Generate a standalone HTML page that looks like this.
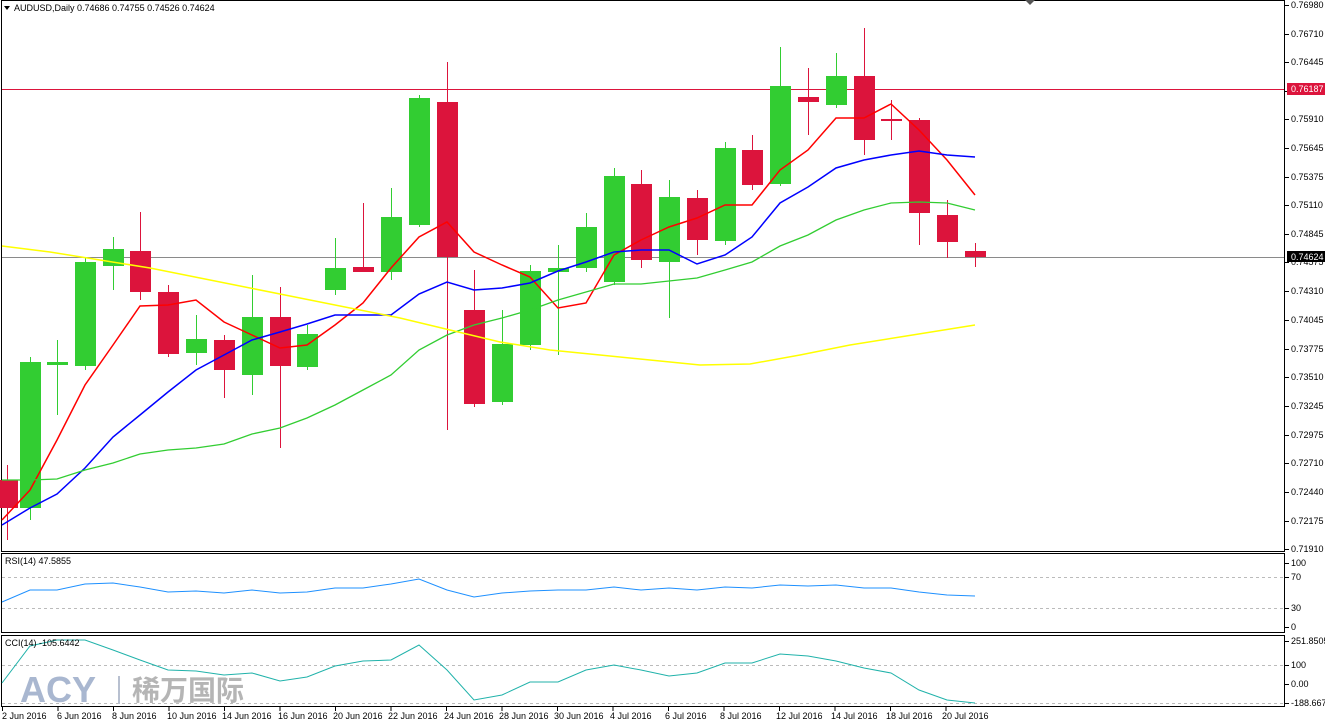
<!DOCTYPE html>
<html><head><meta charset="utf-8"><style>
body{margin:0;background:#fff;width:1325px;height:724px;overflow:hidden}
svg{display:block}
text{font-family:"Liberation Sans","Noto Sans CJK SC",sans-serif;font-size:9px;fill:#000}
</style></head><body>
<svg id="s" width="1325" height="724" xmlns="http://www.w3.org/2000/svg">
<rect x="0" y="0" width="1325" height="724" fill="#fff"/>
<rect x="1.5" y="0.5" width="1283" height="551" fill="none" stroke="#000"/>
<rect x="1.5" y="553.5" width="1283" height="79" fill="none" stroke="#000"/>
<rect x="1.5" y="635.5" width="1283" height="71" fill="none" stroke="#000"/>
<line x1="2" y1="89.5" x2="1284" y2="89.5" stroke="#dc143c" stroke-width="1"/>
<line x1="2" y1="257.5" x2="1284" y2="257.5" stroke="#8a8a8a" stroke-width="1"/>
<line x1="2" y1="577.5" x2="1284" y2="577.5" stroke="#bbb" stroke-dasharray="3,3"/>
<line x1="2" y1="608.5" x2="1284" y2="608.5" stroke="#bbb" stroke-dasharray="3,3"/>
<line x1="2" y1="665.5" x2="1284" y2="665.5" stroke="#bbb" stroke-dasharray="3,3"/>
<line x1="2" y1="703.5" x2="1284" y2="703.5" stroke="#bbb" stroke-dasharray="3,3"/>
<g id="c"></g>
<text x="20" y="702" style="font-size:36px;font-weight:bold;fill:#9aaac8;fill-opacity:0.85">ACY</text>
<rect x="118" y="676" width="2" height="28" fill="#b8c0d0"/>
<text x="132" y="700" style="font-size:28px;font-weight:bold;fill:#a8a8a8;fill-opacity:0.85">稀万国际</text>
<path d="M4,6 L10,6 L7,10 Z" fill="#000"/>
<text x="14" y="11">AUDUSD,Daily  0.74686 0.74755 0.74526 0.74624</text>
<path d="M1025,0 L1035,0 L1030,5 Z" fill="#555"/>
<text x="5" y="564">RSI(14) 47.5855</text>
<text x="5" y="646">CCI(14) -105.6442</text>
<g id="ax"></g>
<g>
<text x="1291" y="8">0.76980</text><text x="1291" y="37">0.76710</text><text x="1291" y="65">0.76445</text>
<text x="1291" y="122">0.75910</text><text x="1291" y="151">0.75645</text><text x="1291" y="180">0.75375</text>
<text x="1291" y="208">0.75110</text><text x="1291" y="237">0.74845</text><text x="1291" y="265">0.74575</text>
<text x="1291" y="294">0.74310</text><text x="1291" y="323">0.74045</text><text x="1291" y="352">0.73775</text>
<text x="1291" y="380">0.73510</text><text x="1291" y="409">0.73245</text><text x="1291" y="438">0.72975</text>
<text x="1291" y="466">0.72710</text><text x="1291" y="495">0.72440</text><text x="1291" y="524">0.72175</text>
<text x="1291" y="552">0.71910</text>
<rect x="1287" y="83" width="38" height="12" fill="#dc143c"/>
<text x="1291" y="92" style="fill:#fff">0.76187</text>
<rect x="1287" y="251" width="38" height="11" fill="#000"/>
<text x="1291" y="260" style="fill:#fff">0.74624</text>
<text x="1291" y="566">100</text><text x="1291" y="580">70</text><text x="1291" y="611">30</text><text x="1291" y="630">0</text>
<text x="1291" y="644">251.8505</text><text x="1291" y="668">100</text><text x="1291" y="687">0.00</text><text x="1291" y="706">-188.6677</text>
</g>
<g>
<text x="2" y="719">2 Jun 2016</text><text x="57" y="719">6 Jun 2016</text><text x="112" y="719">8 Jun 2016</text>
<text x="167" y="719">10 Jun 2016</text><text x="222" y="719">14 Jun 2016</text><text x="278" y="719">16 Jun 2016</text>
<text x="333" y="719">20 Jun 2016</text><text x="388" y="719">22 Jun 2016</text><text x="444" y="719">24 Jun 2016</text>
<text x="499" y="719">28 Jun 2016</text><text x="554" y="719">30 Jun 2016</text><text x="610" y="719">4 Jul 2016</text>
<text x="665" y="719">6 Jul 2016</text><text x="720" y="719">8 Jul 2016</text><text x="776" y="719">12 Jul 2016</text>
<text x="831" y="719">14 Jul 2016</text><text x="886" y="719">18 Jul 2016</text><text x="942" y="719">20 Jul 2016</text>
</g>
</svg>
<script>
var NS="http://www.w3.org/2000/svg",g=document.getElementById("c"),ax=document.getElementById("ax");
function el(t,a,p){var e=document.createElementNS(NS,t);for(var k in a)e.setAttribute(k,a[k]);(p||g).appendChild(e);return e;}
[5,34,62,91,119,148,177,205,234,262,291,320,349,377,406,435,463,492,521,549,563,577,608,627,641,665,684,703].forEach(function(y){el("line",{x1:1285,y1:y+.5,x2:1289,y2:y+.5,stroke:"#000"},ax);});
for(var i=0;i<18;i++){var x=2+i*55.5;el("line",{x1:x+.5,y1:707,x2:x+.5,y2:711,stroke:"#000"},ax);}
var C=[[7,465,540,480,508,0],[30,357,520,362,508,1],[57,340,415,362,365,1],[85,258,370,262,366,1],[113,237,290,249,266,1],[140,212,300,251,292,0],[168,285,357,292,354,0],[196,315,365,339,353,1],[224,335,398,340,370,0],[252,275,395,317,375,1],[280,287,448,317,366,0],[307,325,370,334,367,1],[335,238,295,268,290,1],[363,203,272,267,272,0],[391,188,280,217,272,1],[419,95,227,98,225,1],[447,62,430,102,257,0],[474,270,407,310,404,0],[502,310,405,344,402,1],[530,265,350,271,345,1],[558,245,355,268,272,1],[586,213,272,227,268,1],[614,168,285,176,282,1],[641,170,268,184,260,0],[669,180,318,197,262,1],[697,190,255,198,240,0],[725,142,245,148,241,1],[752,135,190,150,185,0],[780,47,186,86,184,1],[808,68,135,97,102,0],[836,53,108,76,105,1],[864,28,155,76,140,0],[891,100,140,119,121,0],[919,118,245,120,213,0],[947,200,258,215,242,0],[975,243,267,251,257,0]];
C.forEach(function(c){var col=c[5]?"#32cd32":"#dc143c";el("line",{x1:c[0]+.5,y1:c[1],x2:c[0]+.5,y2:c[2],stroke:col});el("rect",{x:c[0]-10,y:c[3],width:21,height:Math.max(2,c[4]-c[3]),fill:col});});
var X=C.map(function(c){return c[0]});
function line(ys,col,w){var p=ys.map(function(y,i){return (i==0?2:X[i])+","+y}).join(" ");el("polyline",{points:p,fill:"none",stroke:col,"stroke-width":w});}
line([520,490,440,385,345,306,305,300,322,335,348,345,325,303,268,237,222,252,265,277,308,303,255,240,227,218,205,205,170,150,118,118,104,130,160,195],"#ff0000",1.5);
line([525,508,494,468,437,415,392,370,355,340,332,324,315,315,315,294,282,290,288,283,271,262,252,250,250,264,255,237,203,187,168,160,155,151,155,157],"#0000ff",1.5);
line([480,480,479,470,463,454,450,448,444,434,428,418,405,390,375,350,335,325,318,310,300,292,284,284,281,278,270,262,246,235,220,210,203,202,203,210],"#32cd32",1.3);
el("polyline",{points:"2,246 50,252 100,260 150,268 200,278 250,288 300,298 350,308 400,318 450,330 500,342 550,350 600,355 650,360 700,365 750,364 800,355 850,345 900,337 975,325",fill:"none",stroke:"#ffff00","stroke-width":1.5});
line([602,590,590,584,583,587,592,591,593,590,593,592,588,588,584,579,590,597,593,591,590,590,587,590,588,590,587,588,585,586,585,588,588,592,595,596],"#1e90ff",1);
line([683,646,640,640,650,660,670,671,675,673,681,677,666,661,660,645,670,700,695,682,682,670,665,670,676,673,663,663,654,656,661,668,673,690,700,703],"#20b2aa",1);
</script>
</body></html>
